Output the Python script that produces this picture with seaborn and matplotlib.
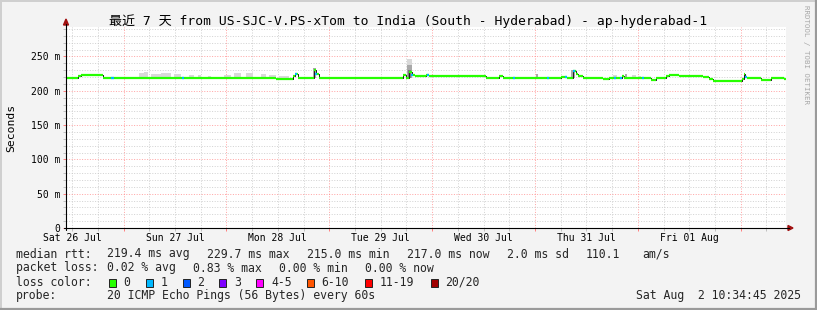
import matplotlib
matplotlib.use("Agg")
import matplotlib.pyplot as plt
import matplotlib.dates as mdates
import matplotlib.transforms as mtransforms
from matplotlib.lines import Line2D
from matplotlib.patches import Rectangle, Polygon
from matplotlib.ticker import MultipleLocator, NullFormatter
import numpy as np
import pandas as pd
import seaborn as sns

# ------------------------------------------------------------------ data
title = "最近 7 天 from US-SJC-V.PS-xTom to India (South - Hyderabad) - ap-hyderabad-1"
start_time = "2025-07-26 10:34:45"
end_time = "2025-08-02 10:34:45"

median_time = [
    "2025-07-26 10:34", "2025-07-26 13:29", "2025-07-26 13:58", "2025-07-26 19:06",
    "2025-07-28 11:29", "2025-07-28 15:28", "2025-07-28 15:56", "2025-07-28 16:38",
    "2025-07-28 20:22", "2025-07-28 20:50", "2025-07-28 21:32",
    "2025-07-29 17:08", "2025-07-29 17:50", "2025-07-29 18:32", "2025-07-29 19:14", "2025-07-29 19:56",
    "2025-07-29 22:31", "2025-07-29 23:13",
    "2025-07-30 12:31", "2025-07-30 15:34", "2025-07-30 16:29",
    "2025-07-31 06:02", "2025-07-31 07:26", "2025-07-31 08:50", "2025-07-31 09:32", "2025-07-31 10:00", "2025-07-31 11:10",
    "2025-07-31 15:50", "2025-07-31 17:14", "2025-07-31 20:16", "2025-07-31 20:44",
    "2025-08-01 03:02", "2025-08-01 04:13", "2025-08-01 06:33", "2025-08-01 07:15", "2025-08-01 09:35",
    "2025-08-01 15:11", "2025-08-01 16:35", "2025-08-01 17:31",
    "2025-08-02 00:17", "2025-08-02 00:46", "2025-08-02 01:05", "2025-08-02 01:28", "2025-08-02 04:44",
    "2025-08-02 07:04", "2025-08-02 07:46", "2025-08-02 08:56", "2025-08-02 10:06",
]
median_ms = [
    218.6, 221.0, 223.0, 218.6,
    217.5, 221.0, 224.0, 218.6,
    229.7, 225.0, 218.6,
    223.0, 218.6, 227.0, 223.0, 221.0,
    223.0, 221.0,
    219.0, 221.0, 219.0,
    220.5, 219.0, 229.0, 224.0, 221.0, 219.0,
    217.0, 219.0, 222.0, 219.0,
    216.0, 219.0, 221.0, 223.0, 221.5,
    219.5, 217.0, 215.0,
    217.0, 224.0, 220.0, 219.0, 216.0,
    219.0, 218.0, 218.5, 216.5,
]

# samples where 1 of 20 pings was lost
loss1_time = [
    "2025-07-26 21:26", "2025-07-27 13:47", "2025-07-28 16:10", "2025-07-28 20:50",
    "2025-07-29 19:14", "2025-07-29 22:59", "2025-07-30 19:04", "2025-07-31 02:59",
    "2025-07-31 07:12", "2025-07-31 09:04", "2025-07-31 18:38", "2025-07-31 20:02",
    "2025-08-01 01:11", "2025-08-02 01:14",
]

# ping spread ("smoke")
smoke_start = [
    "2025-07-27 03:30", "2025-07-27 04:40", "2025-07-27 06:18", "2025-07-27 08:38",
    "2025-07-27 11:40", "2025-07-27 15:10", "2025-07-27 17:16", "2025-07-27 19:37",
    "2025-07-27 23:21", "2025-07-28 01:41", "2025-07-28 04:29", "2025-07-28 07:59",
    "2025-07-28 09:51", "2025-07-28 12:11", "2025-07-28 20:08",
    "2025-07-29 18:04", "2025-07-29 18:04", "2025-07-29 18:18",
    "2025-07-31 00:11", "2025-07-31 08:21", "2025-07-31 18:10", "2025-07-31 21:00",
    "2025-07-31 22:36", "2025-08-01 00:00",
]
smoke_end = [
    "2025-07-27 04:40", "2025-07-27 05:36", "2025-07-27 08:38", "2025-07-27 10:58",
    "2025-07-27 13:18", "2025-07-27 16:20", "2025-07-27 17:58", "2025-07-27 20:19",
    "2025-07-28 01:00", "2025-07-28 03:19", "2025-07-28 06:07", "2025-07-28 09:09",
    "2025-07-28 11:29", "2025-07-28 14:31", "2025-07-28 20:50",
    "2025-07-29 19:14", "2025-07-29 19:14", "2025-07-29 19:00",
    "2025-07-31 00:39", "2025-07-31 09:18", "2025-07-31 19:06", "2025-07-31 21:28",
    "2025-07-31 23:32", "2025-08-01 00:42",
]
smoke_low_ms = [
    218, 218, 218, 218, 218, 218, 218, 218, 218, 218, 218, 218, 218, 217, 219,
    219, 219, 219, 218, 219, 218, 218, 218, 218,
]
smoke_high_ms = [
    225.5, 227.0, 224.0, 225.5, 224.0, 223.0, 223.0, 222.0, 223.0, 225.5, 225.5, 224.0,
    222.5, 222.0, 233.0, 246.0, 237.0, 231.0, 224.0, 230.0, 223.0, 225.0, 223.0, 222.0,
]
smoke_density = [0, 0, 0, 0, 0, 0, 0, 0, 0, 0, 0, 0, 0, 0, 1, 0, 1, 2, 1, 1, 0, 1, 0, 0]

day_label = ["Sat 26 Jul", "Sun 27 Jul", "Mon 28 Jul", "Tue 29 Jul",
             "Wed 30 Jul", "Thu 31 Jul", "Fri 01 Aug"]
day_noon = ["2025-07-26 12:00", "2025-07-27 12:00", "2025-07-28 12:00", "2025-07-29 12:00",
            "2025-07-30 12:00", "2025-07-31 12:00", "2025-08-01 12:00"]

y_ticks = [0, 50, 100, 150, 200, 250]
y_tick_labels = ["0", "50 m", "100 m", "150 m", "200 m", "250 m"]
y_label = "Seconds"

loss_bins = ["0", "1", "2", "3", "4-5", "6-10", "11-19", "20/20"]
loss_colors = ["#26ff00", "#00b8ff", "#0059ff", "#7e00ff", "#ff00ff", "#ff5500", "#ff0000", "#a00000"]

rtt_stats = ["219.4 ms avg", "229.7 ms max", "215.0 ms min", "217.0 ms now", "2.0 ms sd", "110.1", "am/s"]
loss_stats = ["0.02 % avg", "0.83 % max", "0.00 % min", "0.00 % now"]
probe_text = "20 ICMP Echo Pings (56 Bytes) every 60s"
stamp_text = "Sat Aug  2 10:34:45 2025"
watermark = "RRDTOOL / TOBI OETIKER"

# ------------------------------------------------------------------ style
sns.set_theme(style="white")
plt.rcParams["font.family"] = ["DejaVu Sans Mono", "Noto Sans CJK SC"]

W, H = 817, 310
def fx(x):
    return x / W
def fy(y):
    return 1 - y / H

fig = plt.figure(figsize=(W / 100, H / 100), dpi=100, facecolor="#f3f3f3")
ax = fig.add_axes([fx(66), fy(228), (786 - 66) / W, (228 - 27) / H])
ax.set_facecolor("white")
for s in ax.spines.values():
    s.set_visible(False)

t0 = mdates.date2num(pd.Timestamp(start_time))
t1 = mdates.date2num(pd.Timestamp(end_time))
mt = mdates.date2num(pd.to_datetime(median_time))
mv = np.array(median_ms)

# smoke
shade = ["#d9d9d9", "#a9a9a9", "#7a7a7a"]
ss = mdates.date2num(pd.to_datetime(smoke_start))
se = mdates.date2num(pd.to_datetime(smoke_end))
for a, b, lo, hi, d in zip(ss, se, smoke_low_ms, smoke_high_ms, smoke_density):
    ax.bar(a, hi - lo, bottom=lo, width=b - a, align="edge", color=shade[d], linewidth=0, zorder=2)

# black median step line
step_x = np.append(mt, t1)
step_y = np.append(mv, mv[-1])
sns.lineplot(x=step_x, y=step_y, drawstyle="steps-post", color="#202020",
             linewidth=0.72, ax=ax, legend=False, zorder=3, sort=False)

# coloured median (loss 0)
seg_end = np.append(mt[1:], t1)
ax.hlines(mv, mt, seg_end, colors=loss_colors[0], linewidth=1.6, zorder=4, capstyle="butt")

# loss 1 samples
lt = mdates.date2num(pd.to_datetime(loss1_time))
idx = np.searchsorted(mt, lt, side="right") - 1
ax.hlines(mv[idx], lt - 0.25 / 24, lt + 0.25 / 24, colors=loss_colors[1],
          linewidth=1.6, zorder=5, capstyle="butt")

ax.set_xlim(t0, t1)
ax.set_ylim(0, 293)
ax.set_xlabel("")
ax.set_ylabel("")

# ticks & grid
ax.xaxis.set_major_locator(mdates.DayLocator())
ax.xaxis.set_minor_locator(mdates.HourLocator(byhour=[0, 6, 12, 18]))
ax.xaxis.set_major_formatter(NullFormatter())
ax.set_yticks(y_ticks, y_tick_labels)
ax.yaxis.set_minor_locator(MultipleLocator(10))
ax.tick_params(which="both", bottom=True, left=True, direction="out", width=0.72, length=2)
ax.tick_params(axis="x", which="major", color="#ff8080", labelbottom=False)
ax.tick_params(axis="x", which="minor", color="#c0c0c0")
ax.tick_params(axis="y", which="major", color="#ff8080", labelsize=7, pad=2.3, labelcolor="black")
ax.tick_params(axis="y", which="minor", color="#c0c0c0")
ax.grid(which="major", color="#ff8080", alpha=0.7, linestyle=(0, (1, 1.6)), linewidth=0.72)
ax.grid(which="minor", color="#c4c4c4", alpha=0.75, linestyle=(0, (1, 1.6)), linewidth=0.72)
ax.set_axisbelow(True)

# day labels
trans = mtransforms.blended_transform_factory(ax.transData, fig.transFigure)
for lab, t in zip(day_label, mdates.date2num(pd.to_datetime(day_noon))):
    ax.text(t, fy(238), lab, transform=trans, ha="center", va="center", fontsize=7, color="black")

# axis lines with arrows
fig.add_artist(Line2D([fx(64), fx(789)], [fy(228), fy(228)], color="black", lw=0.8))
fig.add_artist(Line2D([fx(66), fx(66)], [fy(230), fy(24)], color="black", lw=0.8))
fig.add_artist(Polygon([[fx(793), fy(228)], [fx(788), fy(225.5)], [fx(788), fy(230.5)]],
                       closed=True, color="#a01010", transform=fig.transFigure))
fig.add_artist(Polygon([[fx(66), fy(19)], [fx(63.5), fy(25)], [fx(68.5), fy(25)]],
                       closed=True, color="#a01010", transform=fig.transFigure))

# title, y label, watermark
fig.text(0.5, fy(21), title, ha="center", va="center", fontsize=9.4, color="black")
fig.text(fx(11), fy(127.5), y_label, rotation=90, ha="center", va="center", fontsize=8.2, color="black")
fig.text(fx(806), fy(5), watermark, rotation=270, ha="center", va="top", fontsize=5.3, color="#a8a8a8")

# legend area
fs = 8.3
fig.text(fx(16), fy(254), "median rtt:", fontsize=fs, va="center")
for x, s in zip([107, 207, 307, 407, 507, 586, 642], rtt_stats):
    fig.text(fx(x), fy(254), s, fontsize=fs, va="center")
fig.text(fx(16), fy(268), "packet loss:", fontsize=fs, va="center")
for x, s in zip([107, 193, 279, 365], loss_stats):
    fig.text(fx(x), fy(268), s, fontsize=fs, va="center")
fig.text(fx(16), fy(282), "loss color:", fontsize=fs, va="center")
sw_x = [108.5, 145.5, 182.5, 219.5, 256, 306.5, 365, 430.5]
for x, lab, c in zip(sw_x, loss_bins, loss_colors):
    fig.add_artist(Rectangle((fx(x), fy(286.5)), 7 / W, 8 / H, transform=fig.transFigure,
                             facecolor=c, edgecolor="#222222", linewidth=0.7))
    fig.text(fx(x + 15), fy(282), lab, fontsize=fs, va="center")
fig.text(fx(16), fy(296), "probe:", fontsize=fs, va="center")
fig.text(fx(107), fy(296), probe_text, fontsize=fs, va="center")
fig.text(fx(801), fy(296), stamp_text, fontsize=fs, va="center", ha="right")

# frame
fig.add_artist(Line2D([0, 1], [fy(0.7), fy(0.7)], color="#cfcfcf", lw=1.4))
fig.add_artist(Line2D([fx(0.7), fx(0.7)], [0, 1], color="#cfcfcf", lw=1.4))
fig.add_artist(Line2D([0, 1], [fy(308.8), fy(308.8)], color="#9a9a9a", lw=1.6))
fig.add_artist(Line2D([fx(816.2), fx(816.2)], [0, 1], color="#9a9a9a", lw=1.6))

fig.savefig("out.png", dpi=100, facecolor=fig.get_facecolor())
